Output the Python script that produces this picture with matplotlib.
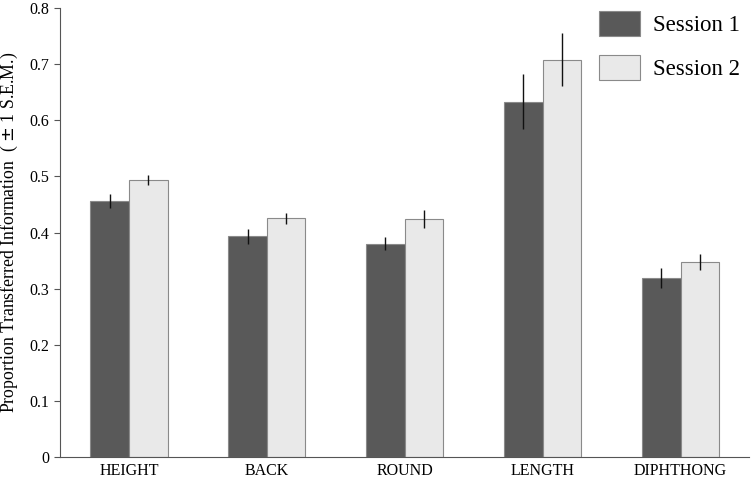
import numpy as np
import matplotlib
matplotlib.use('Agg')
import matplotlib.pyplot as plt

plt.rcParams['font.family'] = ['Liberation Serif', 'DejaVu Serif']

# data
categories = ['HEIGHT', 'BACK', 'ROUND', 'LENGTH', 'DIPHTHONG']
session1 = [0.456, 0.393, 0.380, 0.633, 0.319]
session2 = [0.494, 0.425, 0.424, 0.708, 0.347]
session1_sem = [0.013, 0.014, 0.012, 0.049, 0.017]
session2_sem = [0.009, 0.010, 0.016, 0.047, 0.014]

fig = plt.figure(figsize=(7.56, 4.9), dpi=100)
ax = fig.add_axes([0.0794, 0.0673, 0.912, 0.9164])

x = np.arange(len(categories))
w = 0.28
ax.bar(x - w / 2, session1, w, color='#595959', edgecolor='#8a8a8a', linewidth=0.8,
       label='Session 1', zorder=2)
ax.bar(x + w / 2, session2, w, color='#e9e9e9', edgecolor='#8a8a8a', linewidth=0.8,
       label='Session 2', zorder=2)
ax.errorbar(x - w / 2, session1, yerr=session1_sem, fmt='none', ecolor='#111111',
            elinewidth=1.0, capsize=0, zorder=3)
ax.errorbar(x + w / 2, session2, yerr=session2_sem, fmt='none', ecolor='#111111',
            elinewidth=1.0, capsize=0, zorder=3)

ax.set_xlim(-0.5, len(categories) - 0.5)
ax.set_ylim(0, 0.8)
ax.set_yticks(np.arange(0, 0.81, 0.1))
ax.set_yticklabels(['0'] + ['%.1f' % v for v in np.arange(0.1, 0.81, 0.1)])
ax.set_xticks(x)
ax.set_xticklabels(categories)
ax.tick_params(axis='x', length=0, labelsize=11.5, pad=4)
ax.tick_params(axis='y', direction='out', length=4, labelsize=11.5, color='#555555')
ax.set_ylabel('Proportion Transferred Information  ( $\\pm$ 1 S.E.M.)', fontsize=12.8,
              labelpad=7)

for s in ['top', 'right']:
    ax.spines[s].set_visible(False)
for s in ['left', 'bottom']:
    ax.spines[s].set_color('#555555')
    ax.spines[s].set_linewidth(0.8)

leg = ax.legend(loc='upper right', bbox_to_anchor=(1.016, 1.04), frameon=False,
                fontsize=16.5, handlelength=1.8, handleheight=1.3, labelspacing=0.85,
                handletextpad=0.55)

fig.savefig('out.png', dpi=100)
